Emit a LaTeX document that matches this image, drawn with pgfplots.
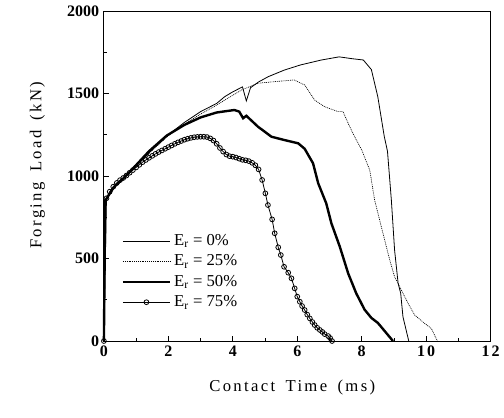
\documentclass[border=0pt]{standalone}
\usepackage{fontspec}
\setmainfont{Liberation Serif}
\newfontfamily\lsfont[LetterSpace=14,WordSpace=1.6]{Liberation Serif}
\newfontfamily\xtfont[LetterSpace=12]{Liberation Serif}
\usepackage{pgfplots}
\pgfplotsset{compat=1.18}

\begin{document}
\begin{tikzpicture}
\begin{axis}[
    scale only axis,
    width=290pt, height=247.5pt,
    xmin=0, xmax=12, ymin=0, ymax=2000,
    xtick={0,2,...,12}, ytick={0,500,...,2000},
    minor xtick={1,3,...,11}, minor ytick={250,750,...,1750},
    xtick pos=left, ytick pos=left,
    major tick length=4pt, minor tick length=2.5pt,
    tick style={black, line width=0.6pt},
    axis line style={line width=0.7pt},
    /pgf/number format/assume math mode=true,
    /pgf/number format/1000 sep={},
    yticklabel style={font=\bfseries\fontsize{12}{14}\selectfont},
    xticklabel style={font=\xtfont\bfseries\fontsize{12}{14}\selectfont},
    xlabel={Contact Time (ms)},
    ylabel={Forging Load (kN)},
    label style={font=\lsfont\fontsize{12.5}{15}\selectfont},
    xlabel style={at={(axis description cs:0.487,-0.142)}, anchor=center},
    ylabel style={at={(axis description cs:-0.172,0.533)}, anchor=center},
    clip=false,
    legend style={draw=none, fill=none, at={(axis description cs:0.035,0.34)},
        anchor=north west, font=\fontsize{12.5}{14}\selectfont,
        row sep=1.5pt},
    legend cell align=left,
    legend image code/.code={\draw[mark repeat=2,mark phase=2,#1]
        plot coordinates {(0cm,0cm) (0.62cm,0cm) (1.25cm,0cm)};},
]
% Er = 0%
\addplot[black, line width=0.6pt] coordinates {
(0,0)(0.04,850)(0.3,930)(0.6,985)(0.9,1040)(1.2,1100)(1.5,1160)(2,1250)
(2.5,1325)(3,1390)(3.5,1440)(3.75,1481)(4,1510)(4.3,1540)(4.42,1455)
(4.55,1535)(4.8,1570)(5.1,1602)(5.6,1642)(6.1,1673)(6.75,1703)(7.3,1722)
(7.7,1711)(8.05,1703)(8.3,1645)(8.5,1480)(8.7,1240)(8.8,1150)(8.92,855)
(9.02,552)(9.13,350)(9.21,289)(9.28,147)(9.46,0)
};
\addlegendentry{E\textsubscript{r} = 0\%}
% Er = 25%
\addplot[black, line width=0.5pt, dash pattern=on 0.7pt off 0.7pt] coordinates {
(0,0)(0.04,850)(0.3,930)(0.6,985)(0.9,1040)(1.2,1098)(1.5,1155)(2,1245)
(2.5,1315)(3,1375)(3.5,1430)(3.75,1460)(4.27,1521)(4.78,1562)(5.3,1572)
(5.9,1582)(6.23,1552)(6.54,1460)(6.85,1420)(7.27,1390)(7.42,1390)(7.58,1319)
(7.78,1238)(8,1158)(8.25,1036)(8.4,855)(8.66,653)(8.87,491)(9.02,390)
(9.23,309)(9.44,228)(9.64,158)(9.95,107)(10.16,76)(10.35,0)
};
\addlegendentry{E\textsubscript{r} = 25\%}
% Er = 50%
\addplot[black, line width=1.8pt] coordinates {
(0,0)(0.04,850)(0.3,930)(0.6,985)(0.9,1045)(1.4,1150)(1.95,1245)(2.5,1310)
(3,1355)(3.5,1385)(4.05,1400)(4.2,1390)(4.32,1350)(4.42,1365)(4.78,1299)
(5.2,1238)(5.6,1218)(6.03,1198)(6.23,1165)(6.49,1077)(6.65,956)(6.9,834)
(7.06,713)(7.32,572)(7.58,410)(7.83,289)(8.09,190)(8.3,140)(8.5,110)(8.77,47)(8.97,0)
};
\addlegendentry{E\textsubscript{r} = 50\%}
% Er = 75%
\addplot[black, line width=0.6pt, mark=o, mark size=1.8pt,
    mark options={fill=white, line width=0.6pt}] coordinates {
(0,0)(0.08,865)(0.18,905)(0.29,935)(0.4,958)(0.5,975)(0.6,988)(0.7,1003)
(0.8,1020)(0.9,1036)(1.0,1052)(1.1,1068)(1.2,1084)(1.3,1097)(1.4,1110)
(1.5,1122)(1.6,1134)(1.7,1145)(1.8,1155)(1.9,1165)(2.0,1175)(2.1,1185)
(2.2,1195)(2.3,1204)(2.4,1212)(2.5,1220)(2.6,1226)(2.7,1231)(2.8,1235)
(2.9,1237)(3.0,1238)(3.1,1238)(3.2,1236)(3.3,1228)(3.4,1215)(3.5,1195)
(3.6,1170)(3.7,1148)(3.8,1130)(3.9,1120)(4.0,1117)(4.1,1112)(4.2,1105)
(4.3,1098)(4.4,1095)(4.5,1090)(4.6,1080)(4.7,1065)(4.8,1040)(4.91,976)
(5.01,895)(5.09,824)(5.22,737)(5.3,653)(5.41,568)(5.49,521)(5.59,450)
(5.72,414)(5.82,380)(5.92,319)(6.0,269)(6.08,238)(6.15,212)(6.23,188)
(6.31,160)(6.39,137)(6.47,115)(6.54,97)(6.62,80)(6.7,67)(6.78,55)
(6.85,42)(6.96,30)(7.02,18)(7.08,0)
};
\addlegendentry{E\textsubscript{r} = 75\%}
% page extent matching the reference
\path (rel axis cs:-0.2687,-0.2303) rectangle (rel axis cs:1.0336,1.0333);
\end{axis}
\end{tikzpicture}
\end{document}
